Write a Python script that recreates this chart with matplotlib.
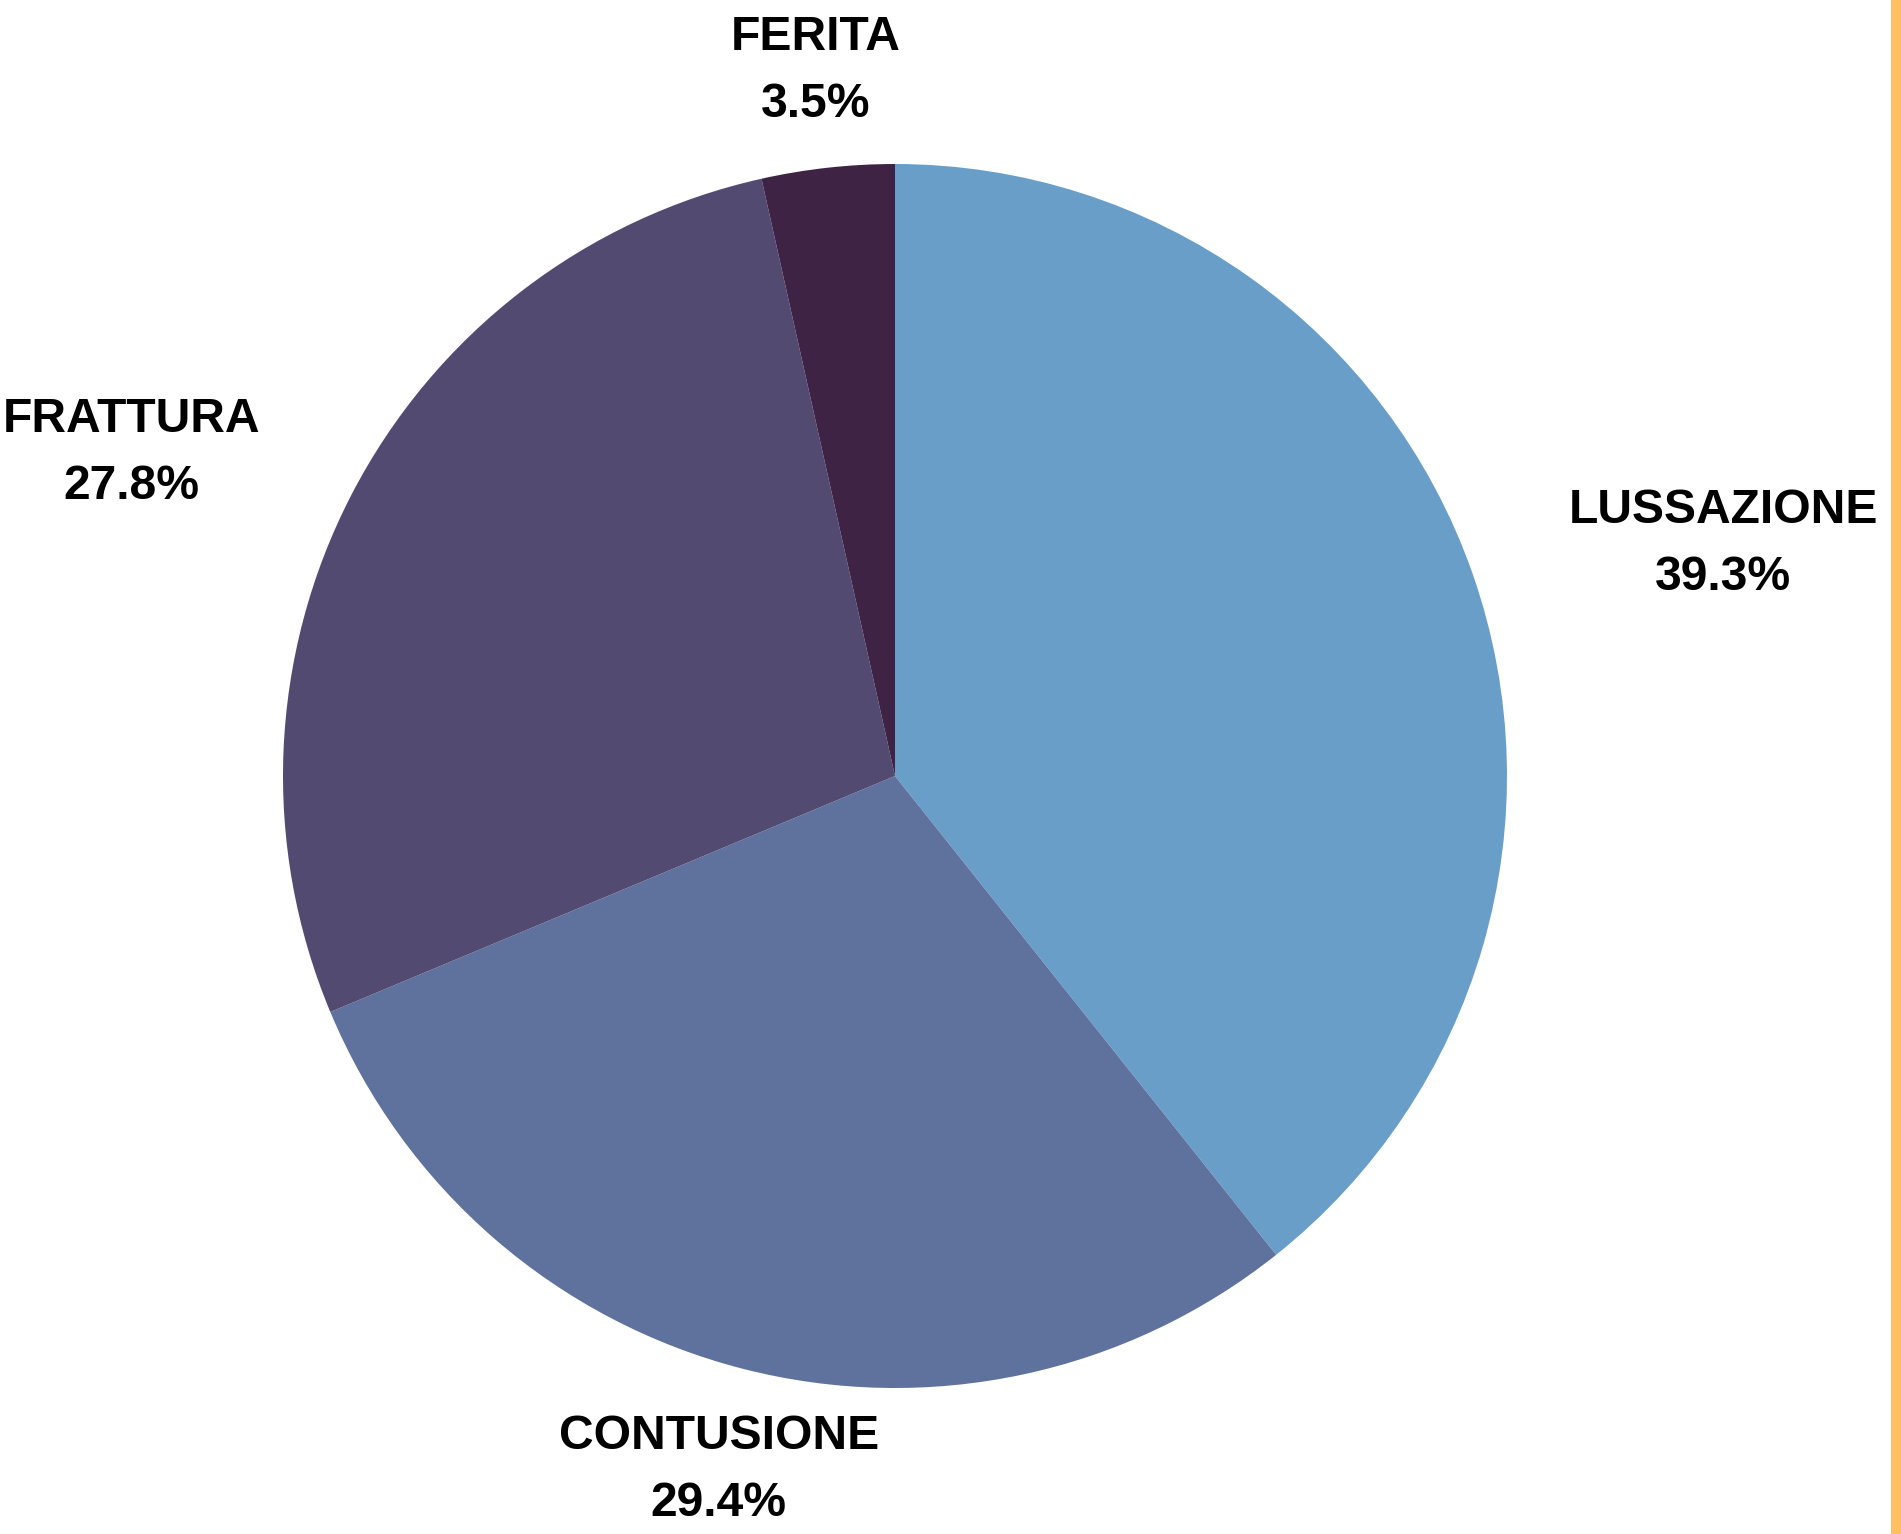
import matplotlib.pyplot as plt
from matplotlib.patches import Rectangle

categories = ["LUSSAZIONE", "CONTUSIONE", "FRATTURA", "FERITA"]
values = [39.3, 29.4, 27.8, 3.5]
colors = ["#699ec8", "#5f729e", "#534a72", "#3f2344"]

# label centres (axes data units, radius = 1)
label_pos = [(1.353, 0.434), (-0.288, -1.080), (-1.248, 0.582), (-0.129, 1.206)]
line_gap = 0.109

plt.rcParams['font.family'] = ['Liberation Sans', 'DejaVu Sans']

W, H = 1901, 1534
fig = plt.figure(figsize=(W / 100, H / 100), dpi=100)
cx, cy, r = 895, 776, 612
ax = fig.add_axes([(cx - r) / W, (H - cy - r) / H, 2 * r / W, 2 * r / H])

ax.pie(values, colors=colors, startangle=90, counterclock=False,
       wedgeprops=dict(linewidth=0))
ax.set_xlim(-1, 1)
ax.set_ylim(-1, 1)
ax.set_aspect('equal')
ax.axis('off')

for name, v, (x, y) in zip(categories, values, label_pos):
    ax.text(x, y, name, ha='center', va='center', fontsize=34.6,
            fontweight='bold', clip_on=False)
    ax.text(x, y - line_gap, f"{v:.1f}%", ha='center', va='center',
            fontsize=34.6, fontweight='bold', clip_on=False)

# orange strip on the right edge
fig.add_artist(Rectangle((1891 / W, 0), 10 / W, 1, transform=fig.transFigure,
                         color="#fdbf62", linewidth=0))

fig.savefig("out.png", dpi=100)
